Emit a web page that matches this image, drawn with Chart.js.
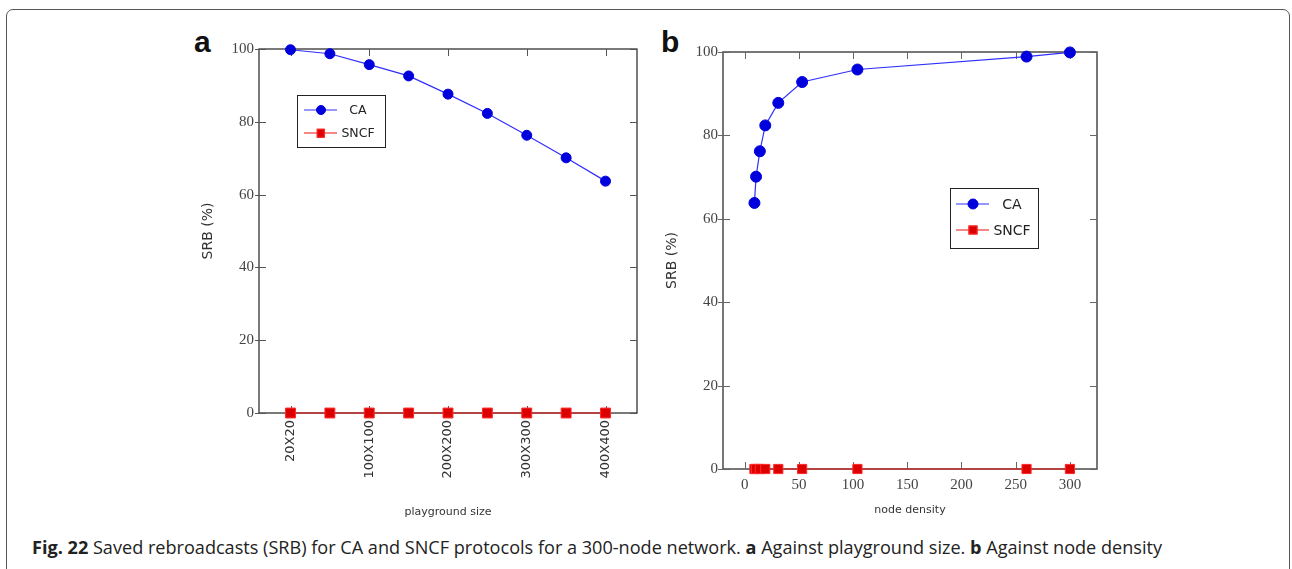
<!DOCTYPE html>
<html><head><meta charset="utf-8">
<script src="https://cdn.jsdelivr.net/npm/chart.js@4.4.1/dist/chart.umd.min.js"></script>
<style>
body{margin:0;width:1292px;height:569px;background:#fff;position:relative;overflow:hidden;}
#frame{position:absolute;left:6px;top:9px;width:1284px;height:620px;border:1.5px solid #555;border-radius:7px;box-sizing:border-box;}
canvas{position:absolute;}
#ca{left:190px;top:20px;}
#cb{left:650px;top:20px;}
.panel{position:absolute;font:bold 30px "Liberation Sans",Arial,sans-serif;line-height:30px;color:#111;}
.legend{position:absolute;border:1.5px solid #222;background:#fff;box-sizing:border-box;}
.ln{position:absolute;height:0;border-top:1.3px solid;transform:translateY(-50%);}
.mk{position:absolute;box-sizing:border-box;transform:translate(-50%,-50%);}
.lt{position:absolute;font-family:"DejaVu Sans",sans-serif;color:#222;transform:translateY(-50%);text-align:center;line-height:1;}
#cap{position:absolute;left:32px;top:537px;white-space:nowrap;font-family:"Open Sans",sans-serif;font-size:18.5px;line-height:20px;color:#222;transform-origin:left top;}
</style></head>
<body>
<div id="frame"></div>
<div class="panel" style="left:194px;top:27px;">a</div>
<div class="panel" style="left:661px;top:27px;">b</div>
<canvas id="ca" width="460" height="510"></canvas>
<canvas id="cb" width="460" height="510"></canvas>
<div class="legend" id="lega" style="left:297px;top:95px;width:89px;height:53px;"></div>
<div class="legend" id="legb" style="left:950px;top:188px;width:89px;height:61px;"></div>
<div id="cap"><b>Fig. 22</b> Saved rebroadcasts (SRB) for CA and SNCF protocols for a 300-node network. <b>a</b> Against playground size. <b>b</b> Against node density</div>
<script>
// ---- data ----
const seriesNames = ["CA", "SNCF"];
const catsA = ["20X20","50X50","100X100","150X150","200X200","250X250","300X300","350X350","400X400"];
const labeledIdxA = [0, 2, 4, 6, 8];
const caA   = [99.8, 98.7, 95.7, 92.6, 87.6, 82.3, 76.3, 70.1, 63.7];
const sncfA = [0, 0, 0, 0, 0, 0, 0, 0, 0];
const densB = [9, 10.5, 14, 19, 31, 53, 104, 260, 300];
const caB   = [63.8, 70.1, 76.2, 82.4, 87.8, 92.8, 95.8, 98.9, 99.9];
const sncfB = [0, 0, 0, 0, 0, 0, 0, 0, 0];
const xTicksB = [0, 50, 100, 150, 200, 250, 300];
const yTicks = [0, 20, 40, 60, 80, 100];

// ---- styles ----
const BLUE_LINE = '#2f2fff', BLUE_PT = '#0000dd';
const RED_LINE = '#ee1111', RED_PT = '#dd0000', RED_BORDER = '#ff2a2a';

const framePlugin = {
  id: 'frame',
  beforeDatasetsDraw(chart, args, o) {
    const {ctx, chartArea: a, scales: {x, y}} = chart;
    ctx.save();
    ctx.strokeStyle = o.color; ctx.lineWidth = o.width;
    ctx.strokeRect(a.left, a.top, a.right - a.left, a.bottom - a.top);
    ctx.strokeStyle = o.tickColor; ctx.lineWidth = 1;
    ctx.beginPath();
    y.ticks.forEach(t => {
      const p = Math.round(y.getPixelForValue(t.value)) + 0.5;
      ctx.moveTo(a.left - o.out, p); ctx.lineTo(a.left + o.len, p);
      ctx.moveTo(a.right - o.len, p); ctx.lineTo(a.right, p);
    });
    x.ticks.forEach(t => {
      const p = Math.round(x.getPixelForValue(t.value)) + 0.5;
      ctx.moveTo(p, a.bottom); ctx.lineTo(p, a.bottom - o.len);
      ctx.moveTo(p, a.top); ctx.lineTo(p, a.top + o.len);
    });
    ctx.stroke(); ctx.restore();
  }
};

function yScale(width, titlePad) {
  return {
    type: 'linear', min: 0, max: 100,
    afterBuildTicks: s => { s.ticks = yTicks.map(v => ({value: v})); },
    afterFit: s => { s.width = width; },
    grid: {display: false, drawTicks: false}, border: {display: false},
    ticks: {padding: 5, color: '#444', font: {family: 'Liberation Serif', size: 15}},
    title: {display: true, text: 'SRB (%)', color: '#333',
      font: {family: 'DejaVu Sans', size: 14}, padding: {top: titlePad, bottom: 0}}
  };
}

function datasets(xs, ca, sncf, rPt, rSq) {
  return [
    {label: seriesNames[0], data: xs.map((x, i) => ({x, y: ca[i]})),
     borderColor: BLUE_LINE, borderWidth: 1.2, pointBackgroundColor: BLUE_PT, pointBorderColor: BLUE_PT,
     pointRadius: rPt, pointBorderWidth: 1, pointStyle: 'circle', clip: false, tension: 0},
    {label: seriesNames[1], data: xs.map((x, i) => ({x, y: sncf[i]})),
     borderColor: RED_LINE, borderWidth: 1.2, pointBackgroundColor: RED_PT, pointBorderColor: RED_BORDER,
     pointRadius: rSq, pointBorderWidth: 1, pointStyle: 'rect', clip: false, tension: 0}
  ];
}

const common = {
  responsive: false, animation: false, devicePixelRatio: 1,
  events: [],
};

new Chart(document.getElementById('ca'), {
  type: 'line',
  data: {datasets: datasets(catsA.map((c, i) => i), caA, sncfA, 5, 7)},
  options: Object.assign({}, common, {
    layout: {padding: {top: 29, right: 13, left: 0, bottom: 0}},
    scales: {
      x: {type: 'linear', min: -0.8, max: 8.8,
        afterBuildTicks: s => { s.ticks = labeledIdxA.map(v => ({value: v})); },
        afterFit: s => { s.height = 117; },
        grid: {display: false, drawTicks: false}, border: {display: false},
        ticks: {autoSkip: false, minRotation: 90, maxRotation: 90, padding: 7, color: '#333',
          font: {family: 'DejaVu Sans', size: 13}, callback: v => catsA[v]},
        title: {display: true, text: 'playground size', color: '#333',
          font: {family: 'DejaVu Sans', size: 11}, padding: {top: 0, bottom: 11}}},
      y: yScale(69, 10)
    },
    plugins: {legend: {display: false}, tooltip: {enabled: false},
      frame: {color: '#333', width: 1.3, tickColor: '#555', len: 7, out: 4}}
  }),
  plugins: [framePlugin]
});

new Chart(document.getElementById('cb'), {
  type: 'line',
  data: {datasets: datasets(densB, caB, sncfB, 5.5, 6.5)},
  options: Object.assign({}, common, {
    layout: {padding: {top: 32, right: 13, left: 0, bottom: 0}},
    scales: {
      x: {type: 'linear', min: -20, max: 325,
        afterBuildTicks: s => { s.ticks = xTicksB.map(v => ({value: v})); },
        afterFit: s => { s.height = 61; },
        grid: {display: false, drawTicks: false}, border: {display: false},
        ticks: {autoSkip: false, maxRotation: 0, padding: 7, color: '#444',
          font: {family: 'Liberation Serif', size: 15}},
        title: {display: true, text: 'node density', color: '#333',
          font: {family: 'DejaVu Sans', size: 11}, padding: {top: 0, bottom: 13}}},
      y: yScale(73, 14)
    },
    plugins: {legend: {display: false}, tooltip: {enabled: false},
      frame: {color: '#555', width: 1.6, tickColor: '#666', len: 7, out: 5}}
  }),
  plugins: [framePlugin]
});

// ---- legends (HTML) ----
function buildLegend(id, rows, lineL, lineR, textC, fontSize, rPt, sq) {
  const el = document.getElementById(id);
  const styles = [
    {line: BLUE_LINE, fill: BLUE_PT, border: BLUE_PT, circle: true, size: rPt * 2},
    {line: RED_LINE, fill: RED_PT, border: RED_BORDER, circle: false, size: sq}
  ];
  seriesNames.forEach((name, i) => {
    const y = rows[i], s = styles[i];
    const ln = document.createElement('div');
    ln.className = 'ln';
    ln.style.cssText = `left:${lineL}px;width:${lineR - lineL}px;top:${y}px;border-color:${s.line};`;
    el.appendChild(ln);
    const mk = document.createElement('div');
    mk.className = 'mk';
    mk.style.cssText = `left:${(lineL + lineR) / 2}px;top:${y}px;width:${s.size}px;height:${s.size}px;background:${s.fill};border:1px solid ${s.border};border-radius:${s.circle ? '50%' : '0'};`;
    el.appendChild(mk);
    const t = document.createElement('div');
    t.className = 'lt';
    t.style.cssText = `left:${textC - 30}px;width:60px;top:${y}px;font-size:${fontSize}px;`;
    t.textContent = name;
    el.appendChild(t);
  });
}
buildLegend('lega', [14, 37], 6, 39, 60, 12.5, 5, 8.5);
buildLegend('legb', [15, 41], 5, 38, 61, 14, 5.5, 9);

// caption width fit
const cap = document.getElementById('cap');
const w = cap.getBoundingClientRect().width;
cap.style.transform = `scaleX(${1130 / w})`;
</script>
</body></html>
